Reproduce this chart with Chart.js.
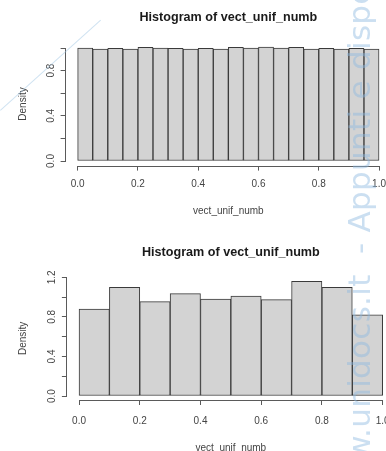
<!DOCTYPE html>
<html>
<head>
<meta charset="utf-8">
<script src="https://cdn.jsdelivr.net/npm/chart.js@4.4.1/dist/chart.umd.min.js"></script>
<style>
  html, body { margin: 0; padding: 0; background: #fff; }
  body { width: 386px; height: 451px; overflow: hidden; position: relative; }
  canvas { position: absolute; left: 0; }
  #top-chart { top: 0; }
  #bottom-chart { top: 225px; }
  .marca {
    position: absolute; left: 344px; top: 512px;
    font-family: 'DejaVu Sans', sans-serif; font-size: 31px; font-weight: normal;
    line-height: 31px; letter-spacing: 0.3px; white-space: pre;
    color: rgba(140, 185, 225, 0.45);
    transform-origin: 0 0; transform: rotate(-90deg);
  }
  .linea {
    position: absolute; left: 0; top: 110px; width: 135px; height: 0;
    border-top: 1px solid rgba(160, 198, 228, 0.5);
    transform-origin: 0 0; transform: rotate(-42deg);
  }
</style>
</head>
<body>
<canvas id="top-chart" width="400" height="225"></canvas>
<canvas id="bottom-chart" width="400" height="240"></canvas>
<div class="linea"></div>
<div class="marca">www.unidocs.it  - Appunti e dispense</div>
<script>
// Datos de los histogramas
const titleText = 'Histogram of vect_unif_numb';
const xTitleText = 'vect_unif_numb';
const yTitleText = 'Density';

const topBinMids = [0.025, 0.075, 0.125, 0.175, 0.225, 0.275, 0.325, 0.375, 0.425, 0.475,
                    0.525, 0.575, 0.625, 0.675, 0.725, 0.775, 0.825, 0.875, 0.925, 0.975];
const topDensity = [1.000, 0.991, 0.997, 0.991, 1.006, 1.000, 0.997, 0.991, 0.997, 0.991,
                    1.006, 1.000, 1.009, 1.000, 1.006, 0.991, 0.997, 0.991, 0.997, 0.991];

const bottomBinMids = [0.05, 0.15, 0.25, 0.35, 0.45, 0.55, 0.65, 0.75, 0.85, 0.95];
const bottomDensity = [0.88, 1.10, 0.954, 1.035, 0.981, 1.011, 0.974, 1.16, 1.10, 0.82];

const xTicks = [0, 0.2, 0.4, 0.6, 0.8, 1.0];
const topYTicks = [0, 0.2, 0.4, 0.6, 0.8, 1.0];
const topYLabels = [0, 0.4, 0.8];
const bottomYTicks = [0, 0.2, 0.4, 0.6, 0.8, 1.0, 1.2];
const bottomYLabels = [0, 0.4, 0.8, 1.2];

const fontFamily = "'Liberation Sans', Arial, sans-serif";
const axisColor = '#5a5a5a';
const labelColor = '#444';

// Ejes estilo R: la línea sólo va del primer al último tick
const rAxes = {
    id: 'rAxes',
    afterDraw(chart) {
        const ctx = chart.ctx;
        const xs = chart.scales.x;
        const ys = chart.scales.y;
        const area = chart.chartArea;
        ctx.save();
        ctx.strokeStyle = axisColor;
        ctx.lineWidth = 1;
        ctx.beginPath();
        const yl = Math.round(area.left) - 0.5;
        ctx.moveTo(yl, ys.getPixelForValue(ys.ticks[0].value));
        ctx.lineTo(yl, ys.getPixelForValue(ys.ticks[ys.ticks.length - 1].value));
        const xb = Math.round(area.bottom) + 0.5;
        ctx.moveTo(xs.getPixelForValue(xs.ticks[0].value), xb);
        ctx.lineTo(xs.getPixelForValue(xs.ticks[xs.ticks.length - 1].value), xb);
        ctx.stroke();
        ctx.restore();
    }
};

function makeHist(id, mids, density, yTicks, yLabels, g) {
    const ctx = document.getElementById(id).getContext('2d');
    return new Chart(ctx, {
        type: 'bar',
        data: {
            datasets: [{
                data: mids.map((m, i) => ({ x: m, y: density[i] })),
                backgroundColor: '#d3d3d3',
                borderColor: '#3a3a3a',
                borderWidth: 1,
                borderSkipped: false,
                barPercentage: 1,
                categoryPercentage: 1
            }]
        },
        options: {
            responsive: false,
            animation: false,
            devicePixelRatio: 1,
            events: [],
            layout: { padding: { left: 0, right: g.rightPad, top: 0, bottom: 0 } },
            plugins: {
                legend: { display: false },
                tooltip: { enabled: false },
                title: {
                    display: true,
                    text: titleText,
                    fullSize: false,
                    color: '#1a1a1a',
                    font: { family: fontFamily, size: 12.6, weight: 'bold' },
                    padding: { top: g.titleTop, bottom: g.titleBottom }
                }
            },
            scales: {
                x: {
                    type: 'linear',
                    offset: false,
                    min: -0.04,
                    max: 1.04,
                    afterBuildTicks: s => { s.ticks = xTicks.map(v => ({ value: v })); },
                    afterFit: s => { s.height = g.xHeight; },
                    border: { display: false },
                    grid: { offset: false, drawOnChartArea: false, drawTicks: true, tickLength: 5, color: axisColor },
                    ticks: {
                        autoSkip: false, minRotation: 0, maxRotation: 0,
                        padding: g.xTickPad, color: labelColor,
                        font: { family: fontFamily, size: 10 },
                        callback: v => v.toFixed(1)
                    },
                    title: {
                        display: true, text: xTitleText, color: labelColor,
                        font: { family: fontFamily, size: 10 },
                        padding: { top: 0, bottom: g.xTitlePad }
                    }
                },
                y: {
                    type: 'linear',
                    min: g.yMin,
                    max: g.yMax,
                    afterBuildTicks: s => { s.ticks = yTicks.map(v => ({ value: v })); },
                    afterFit: s => { s.width = g.yWidth; },
                    border: { display: false },
                    grid: { drawOnChartArea: false, drawTicks: true, tickLength: 5, color: axisColor },
                    ticks: {
                        autoSkip: false, minRotation: 90, maxRotation: 90, crossAlign: 'center',
                        padding: g.yTickPad, color: labelColor,
                        font: { family: fontFamily, size: 10 },
                        callback: v => yLabels.includes(v) ? v.toFixed(1) : ''
                    },
                    title: {
                        display: true, text: yTitleText, color: labelColor,
                        font: { family: fontFamily, size: 10 },
                        padding: { top: g.yTitlePad, bottom: 0 }
                    }
                }
            }
        },
        plugins: [rAxes]
    });
}

makeHist('top-chart', topBinMids, topDensity, topYTicks, topYLabels, {
    yMin: -0.0407, yMax: 1.0496,
    yWidth: 65.6, rightPad: 8.9, titleTop: 9.7, titleBottom: 17.6,
    xHeight: 59.4, xTickPad: 8, xTitlePad: 8, yTickPad: 2.5, yTitlePad: 17
});

makeHist('bottom-chart', bottomBinMids, bottomDensity, bottomYTicks, bottomYLabels, {
    yMin: -0.040, yMax: 1.206,
    yWidth: 66.9, rightPad: 5.2, titleTop: 19.5, titleBottom: 17.1,
    xHeight: 65, xTickPad: 10, xTitlePad: 11, yTickPad: 3, yTitlePad: 17
});
</script>
</body>
</html>
